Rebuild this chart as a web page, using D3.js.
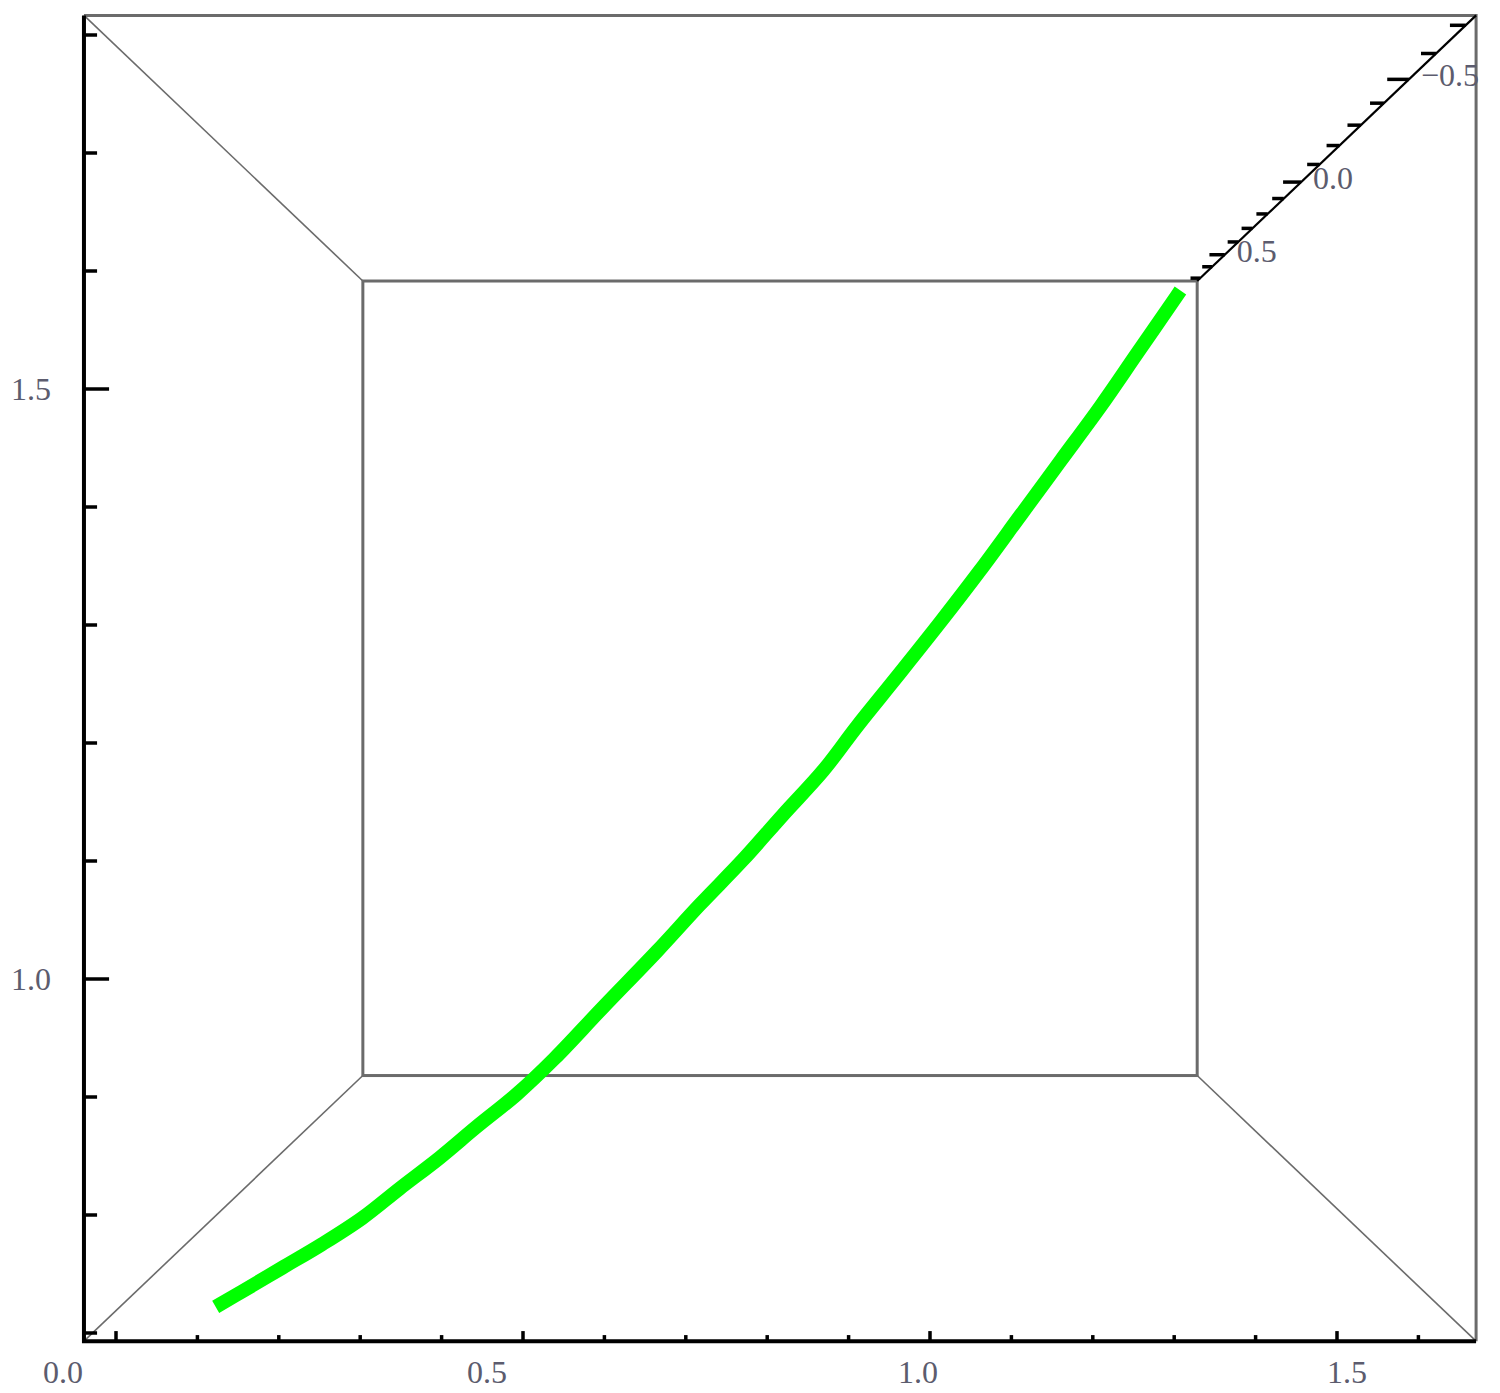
<!DOCTYPE html>
<html>
<head>
<meta charset="utf-8">
<script src="https://cdn.jsdelivr.net/npm/d3@7"></script>
<style>
  html, body { margin: 0; padding: 0; background: #fff; }
  svg { display: block; }
</style>
</head>
<body>
<script>
// curve, front-face coordinates
const curveX = [0.131, 0.156, 0.205, 0.254, 0.303, 0.349, 0.398, 0.443, 0.493, 0.539,
  0.598, 0.665, 0.717, 0.770, 0.819, 0.869, 0.910, 0.959, 1.012, 1.061,
  1.111, 1.160, 1.209, 1.254, 1.302];
const curveY = [0.726, 0.736, 0.756, 0.776, 0.798, 0.823, 0.849, 0.875, 0.903, 0.933,
  0.976, 1.024, 1.063, 1.101, 1.139, 1.177, 1.214, 1.256, 1.302, 1.346,
  1.393, 1.439, 1.485, 1.530, 1.578];

// box extents
const xLim = [-0.038, 1.6695];
const yLim = [0.694, 1.8157];
const zLim = [-0.733, 0.726];

// tick values
const xMajor = [0, 0.5, 1, 1.5];
const yMajor = [1, 1.5];
const zMajor = [-0.5, 0, 0.5];
const xMinor = [0.1, 0.2, 0.3, 0.4, 0.6, 0.7, 0.8, 0.9, 1.1, 1.2, 1.3, 1.4, 1.6];
const yMinor = [0.7, 0.8, 0.9, 1.1, 1.2, 1.3, 1.4, 1.6, 1.7, 1.8];
const zMinor = [-0.7, -0.6, -0.4, -0.3, -0.2, -0.1, 0.1, 0.2, 0.3, 0.4, 0.6, 0.7];

const width = 1500;
const height = 1393;

const svg = d3.select('body').append('svg')
  .attr('width', width)
  .attr('height', height);

svg.append('defs').append('clipPath')
  .attr('id', 'pageclip')
  .append('rect')
  .attr('x', 0).attr('y', 0)
  .attr('width', 1483).attr('height', height);

const xScale = d3.scaleLinear().domain([0, 1.5]).range([116, 1337]);
const yScale = d3.scaleLinear().domain([1, 1.5]).range([979, 389]);
// z -> inverse perspective factor
const depth = d3.scaleLinear().domain([-0.5, 0.5]).range([1.105, 1.5625]);
// tick labels sit a little off the ticks (3d offset)
const xLabelScale = d3.scaleLinear().domain([0, 0.5, 1, 1.5]).range([63, 487, 918, 1347]);

const cx = (xScale(xLim[0]) + xScale(xLim[1])) / 2;
const cy = (yScale(yLim[0]) + yScale(yLim[1])) / 2;

function project(x, y, z) {
  const s = 1 / depth(z);
  return [cx + (xScale(x) - cx) * s, cy + (yScale(y) - cy) * s];
}

const g = svg.append('g').attr('clip-path', 'url(#pageclip)');
const font = '"Liberation Serif", "DejaVu Serif", serif';
const labelColor = '#5c5c6e';
const gray = '#6b6b6b';

// connecting edges, front corners to back corners
const corners = [
  [xLim[0], yLim[1]],
  [xLim[0], yLim[0]],
  [xLim[1], yLim[0]],
];
g.selectAll('.edge')
  .data(corners)
  .enter()
  .append('line')
  .attr('class', 'edge')
  .attr('x1', d => project(d[0], d[1], zLim[0])[0])
  .attr('y1', d => project(d[0], d[1], zLim[0])[1])
  .attr('x2', d => project(d[0], d[1], zLim[1])[0])
  .attr('y2', d => project(d[0], d[1], zLim[1])[1])
  .attr('stroke', gray)
  .attr('stroke-width', 1.6);

// back face
const b0 = project(xLim[0], yLim[1], zLim[1]);
const b1 = project(xLim[1], yLim[0], zLim[1]);
g.append('rect')
  .attr('x', b0[0]).attr('y', b0[1])
  .attr('width', b1[0] - b0[0]).attr('height', b1[1] - b0[1])
  .attr('fill', 'none')
  .attr('stroke', gray)
  .attr('stroke-width', 3);

// front face, top and right edges
const f = (x, y) => project(x, y, zLim[0]);
g.append('path')
  .attr('d', d3.line()([f(xLim[0], yLim[1]), f(xLim[1], yLim[1]), f(xLim[1], yLim[0])]))
  .attr('fill', 'none')
  .attr('stroke', gray)
  .attr('stroke-width', 3);

// green curve
const curve = curveX.map((x, i) => project(x, curveY[i], zLim[0]));
g.append('path')
  .attr('d', d3.line().curve(d3.curveCatmullRom.alpha(0.5))(curve))
  .attr('fill', 'none')
  .attr('stroke', '#00ff00')
  .attr('stroke-width', 14)
  .attr('stroke-linecap', 'square')
  .attr('stroke-linejoin', 'round');

// left + bottom axis lines
g.append('path')
  .attr('d', d3.line()([f(xLim[0], yLim[1]), f(xLim[0], yLim[0]), f(xLim[1], yLim[0])]))
  .attr('fill', 'none')
  .attr('stroke', '#000')
  .attr('stroke-width', 4);

const yTicks = yMajor.map(v => ({ v, len: 24 })).concat(yMinor.map(v => ({ v, len: 12 })));
g.selectAll('.ytick')
  .data(yTicks)
  .enter()
  .append('line')
  .attr('class', 'ytick')
  .attr('x1', xScale(xLim[0]))
  .attr('x2', d => xScale(xLim[0]) + d.len)
  .attr('y1', d => yScale(d.v))
  .attr('y2', d => yScale(d.v))
  .attr('stroke', '#000')
  .attr('stroke-width', 3.5);

g.selectAll('.ylabel')
  .data(yMajor)
  .enter()
  .append('text')
  .attr('class', 'ylabel')
  .attr('x', 31)
  .attr('y', d => yScale(d) + 11)
  .attr('text-anchor', 'middle')
  .attr('font-family', font)
  .attr('font-size', 32)
  .attr('fill', labelColor)
  .text(d => d3.format('.1f')(d));

// bottom axis
const xTicks = xMajor.map(v => ({ v, len: 9 })).concat(xMinor.map(v => ({ v, len: 5 })));
g.selectAll('.xtick')
  .data(xTicks)
  .enter()
  .append('line')
  .attr('class', 'xtick')
  .attr('x1', d => xScale(d.v))
  .attr('x2', d => xScale(d.v))
  .attr('y1', yScale(yLim[0]))
  .attr('y2', d => yScale(yLim[0]) - d.len)
  .attr('stroke', '#000')
  .attr('stroke-width', 3.5);

g.selectAll('.xlabel')
  .data(xMajor)
  .enter()
  .append('text')
  .attr('class', 'xlabel')
  .attr('x', d => xLabelScale(d))
  .attr('y', 1383)
  .attr('text-anchor', 'middle')
  .attr('font-family', font)
  .attr('font-size', 32)
  .attr('fill', labelColor)
  .text(d => d3.format('.1f')(d));

// z axis on the top-right edge
const zA = project(xLim[1], yLim[1], zLim[1]);
const zB = project(xLim[1], yLim[1], zLim[0]);
g.append('line')
  .attr('x1', zA[0]).attr('y1', zA[1])
  .attr('x2', zB[0]).attr('y2', zB[1])
  .attr('stroke', '#000')
  .attr('stroke-width', 2.2);

const zTicks = zMajor.map(v => ({ v, len: 24 })).concat(zMinor.map(v => ({ v, len: 16 })));
g.selectAll('.ztick')
  .data(zTicks)
  .enter()
  .append('line')
  .attr('class', 'ztick')
  .attr('x1', d => project(xLim[1], yLim[1], d.v)[0])
  .attr('y1', d => project(xLim[1], yLim[1], d.v)[1])
  .attr('x2', d => project(xLim[1] - d.len / 814, yLim[1], d.v)[0])
  .attr('y2', d => project(xLim[1] - d.len / 814, yLim[1], d.v)[1])
  .attr('stroke', '#000')
  .attr('stroke-width', 3.5);

g.selectAll('.zlabel')
  .data(zMajor)
  .enter()
  .append('text')
  .attr('class', 'zlabel')
  .attr('x', d => project(xLim[1], yLim[1], d)[0] + 12)
  .attr('y', d => project(xLim[1], yLim[1], d)[1] + 7)
  .attr('font-family', font)
  .attr('font-size', 32)
  .attr('fill', labelColor)
  .text(d => d < 0 ? '\u2212' + d3.format('.1f')(-d) : d3.format('.1f')(d));
</script>
</body>
</html>
